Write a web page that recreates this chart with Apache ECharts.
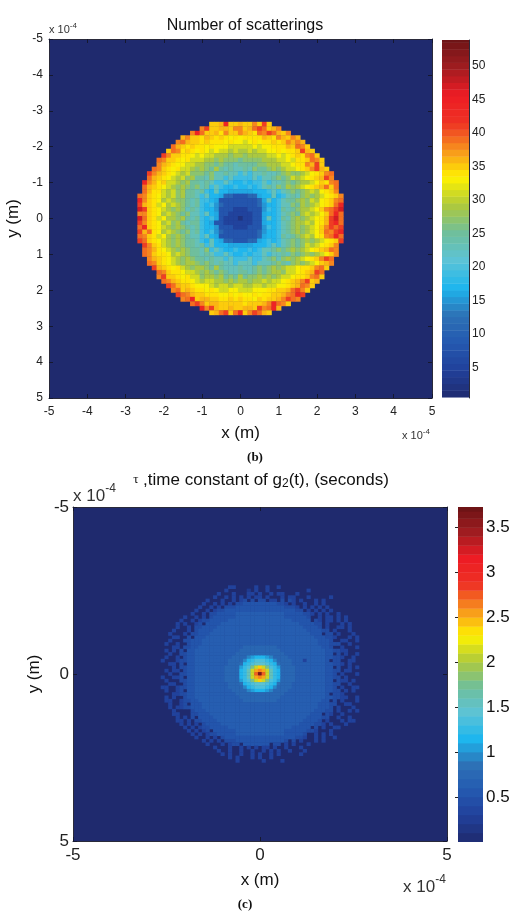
<!DOCTYPE html>
<html><head><meta charset="utf-8">
<style>html,body{margin:0;padding:0;background:#fff}#c{width:521px;height:919px}</style>
<script src="https://cdn.jsdelivr.net/npm/echarts@6/dist/echarts.min.js"></script>
</head><body><div id="c"></div>
<script>
// Estimated cell levels. '.' = background cell.
// Panel (b): each base-36 digit indexes scatterLevels. Spaces only group the cells.
const scatterLevels = [0,2,5,8,11,13,15,16,17,19,23,25,27,29,31,33,34,35,36,38,39,41,44,47];
const scatterRows = [
"hhimhhihhjhlh",
"jlhhiihjjhiklkhij",
"jmkhhigjhhjihgkjlkihj",
"ijhhgihghgfgfggggihgjihji",
"jkihhghgggfgffefgfgghghjiji",
"kihghggfgfffeeeeefeffgggihkjh",
"hkjghgfgfefeededdedeeffgfgghlih",
"ljhhggfefeedddcddcddddeefefghgjkh",
"kjhhgfgeeeddcdcccbccccdddeefegghkjh",
"jihgffeeddccbcbbabbbbccdddeefggjilh",
"kjhgfgeedcdcbdbabaabacbbcdcdeefghjlih",
"ljihgfedecccbcaabaa9a9aabaabcdccdefghjk",
"kihgfedecdbbacaa9a9 9 99a9aabcbcedefghilj",
"mjigheedcdbbaba99a98 8 9899a9aabcbcddefhgjk",
"kihgfedcdcbcab9a9889 8 8989abacbdcdefghikhk",
"kiggedecdbbab98a8877 7 778889a9abcbcdedfghj",
"kjhgfedecdbba9a887443 3 344788a89abacdcdefghj",
"mjhgfdedccbab99873333 3 33347a89abbcdcedfghjk",
"lihgefdedcbab98964333 3 33346889aacbdcdefghkm",
"nlhgfedcdcaba98863332 2 23336989babcddefhjkln",
"jjhgfdedcbcaa9a873322 2 22337889abcbdedefhkmk",
"nkhgefddcdbab98973222 1 22337a89bacdcdefgilnk",
"ljhgfdecdbabb98733222 2 22337889abcddedfgilmk",
"kmhgfedcdcbab98863332 2 23336989abcdcdefhjlkl",
"likgfdedcbcab98964333 3 33346889abcdcdefhkjlm",
"kjhgefdcdcbaa9a873333 3 33347889babcdedfgjkmk",
"lkhgfedcdcbba98a87443 3 34478989abcbcdcdefghl",
"ljhgedcdcbbab9a88877 7 778889a9abcbcedefghj",
"kjigfedcdcbbac9a9889 8 8989aabcbcdcdefghikj",
"kjhggfdedcbbaba99a98 8 9899a9aabacbcdcdefhj",
"jihgfedcdcbbabaa9a9 9 9a99abcacdcdefghjlk",
"kjhgfedcddcbcbabaa9aaa9aaabcbacdcdefhij",
"lihgfgedcddcbdbaaabaabcbcdcdeefgghjkh",
"kjhggfeedcdcbcbaabbabcbcddceefghilk",
"jlhhgfgeecddcdbcbdbccdcdcdeefgghjkh",
"kjihggfedeeddcdcddcddedeefghijlhi",
"lkihhgfffedeedeeddeedeeffghikjh",
"jkhihggfgfeeffeeefffgghhikljh",
"lkjihhgggffgfgffgfgghhijkml",
"jkmhiihhgghghggfhghhijlkj",
"kljhiihhhhhghhhijmkjh",
"mjlihhihhiihljkmi",
"hiklhkmhjlkih"
];
// Panel (c): base-36 digit x 0.105 = time constant in seconds. Spaces only group the cells.
const tauRows = [
"..................33.....3..3..3.....................",
".................3.....2.3..3..........3.............",
"...............3...3...33.3..3.33...3................",
"..............3..3.3.3.3.33.3...3.33...3.....3.......",
"............3...3..3.34.4.44.33.4.43.3...3.3.........",
"...........3..3.3.3. 4455555555544 3.3..3..3.3.........",
"..........3..3.3. 444 5555555555555 444 3.3.3.3.3........",
".........3..3.3 44 5555555555555555555 44 .3.3.3.3.......",
"........3..3. 44 55555 6666666666666 55555 44 3.3.3..3.....",
"......3..3.3 .4 555555 6666666666666 555555 4. .3.33.3.3...",
".....3..3.3 44 55555 6666666666 6666666 55555 .4 3.33.3.3...",
"....3.3..3 4. 5555 6666666666 6666666666 6 5555 44 .3...3.3..",
"....3..3. 44 5555 6666666666 6666666666 666 5555 4. 3..33.3..",
"...3...3 .4 5555 6666666666 6666666666 66666 5555 44 .3...3..",
"..3...3. 44 555 6666666666 6666666666 6666666 555 .4 4.3...3.",
"...33.. 4. 555 6666666666 6666666666 666666666 555 44 3...3.3",
"..3... 44 555 6666666666 6666666666 6666666666 6 555 4. .33..3",
".3..3. .4 555 6666666666 6666666666 6666666666 6 555 44 4..3..",
"...33. 44 55 666666666666 777777777 666666666666 55 4. .3...3",
".3.3. 4.55 666666666666 77777777777 666666666666 5544 33...",
"..3.. 4455 66666666666 7777777777777 66666666666 55.4 .3..3",
".3..3 .455 6666666666 7777 9abbba9 7777 6666666666 5544 3..3.",
"3...3 4455 666666666 7777 9bcdddcb9 7777 666366666 5.44 ..33.",
"..33. 4.55 666666666 777 8bcdeeedcb8 777 666666666 5544 3.3..",
"...3. 4455 66666666 7777 acdhknkhdca 7777 66666666 55.4 ..3.3",
".3.33 .455 66666666 7777 bcfkopokfcb 7777 66666666 5544 .33..",
"..3.. 4455 66666666 7777 bcfkqzqkfcb 7777 66666666 554. 3...3",
"3..33 4.55 66666666 7777 bcfkopokfcb 7777 66666666 5544 .3...",
".3... 4455 66666666 7777 acdhknkhdca 7777 66666666 55.4 33.3.",
"..33. .455 666666666 777 8bcdeeedcb8 777 666666666 5544 ..3..",
"33..3 4455 666666666 7777 9bcdddcb9 7777 666666666 554. 3..33",
".3..3 4.55 6666666666 7777 9abbba9 7777 6666666666 5544 .3.3.",
"...33 4455 66666666666 7777777777777 66666666666 5.44 3....",
".3.3. .455 666666666666 77777777777 666666666666 5544 33..3",
".33..3 44 55 666666666666 777777777 666666666666 55 .4 .3...3",
"..3..3 4. 555 6666666666 6666666666 6666666666 6 555 44 ..33..",
"..3.33 44 555 6666666666 6666666666 6666666666 6 555 4. 3...3.",
"...3... .4 555 6666666666 6666666666 666666666 555 44 .3..3.3",
"...33... 44 555 6666666666 6666666666 6666666 555 .4 3..3....",
"....3.3. 4. 5555 6666666666 6666666666 66666 5555 44 ..3..3..",
"....33.3. 44 5555 6666666666 6666666666 666 5555 4. 3...3.33.",
".....3.3.3 .4 5555 6666666666 6666666666 6 5555 44 3.3...3...",
"......3.3.3 44 55555 6666666666 6666666 55555 .4 .3..33....",
".......3.3.3 4. 555555 6666666666 666 555555 44 3...3.......",
"........3.3.3 44 55555 6666666666 666 55555 4. .3.3.3.......",
".........3..3.3 .4 5555555555555555555 44 3..3.3..3......",
"...........3.3.3. 444 5555555555555 4.4 .3...3.3.........",
"............3...3.3 44.5555555.44 .3.3...3.............",
"..............3...3..3.3.3.33.3..3...3...............",
"...............3..3..3..3..3.3.3..3...3..............",
"................3.3..3..3.3..3.3.....3...............",
"..................3.3...3.3..3.......................",
"....................3......3....3...................."
];
const scatterGridSize = 43, tauGridSize = 53;
const scatterCellStep = 0.125, tauCellStep = 0.1;
const tauUnit = 0.105;
const positionTicks = [-5,-4,-3,-2,-1,0,1,2,3,4,5];
const tauPositionTicks = [-5,0,5];
const scatterBarTicks = [5,10,15,20,25,30,35,40,45,50];
const tauBarTicks = [0.5,1,1.5,2,2.5,3,3.5];
const scatterBarLevels = [1,2,3,4,5,6,7,8,9,10,11,12,13,14,15,16,17,18,19,20,21,22,23,24,25,26,27,28,29,30,31,32,33,34,35,36,37,38,39,40,41,42,43,44,45,46,47,48,49,50,51,52,53,54];
const tauBarLevels = [0.05,0.15,0.25,0.35,0.45,0.55,0.65,0.75,0.85,0.95,1.05,1.15,1.25,1.35,1.45,1.55,1.65,1.75,1.85,1.95,2.05,2.15,2.25,2.35,2.45,2.55,2.65,2.75,2.85,2.95,3.05,3.15,3.25,3.35,3.45,3.55,3.65,3.73];
const colormap = ['#1f2a6e','#21409a','#2459b0','#2d72b6','#1eb6ee','#5cc3d6','#6fbf9c','#aec93c','#fff200','#f7941d','#ee3124','#ed1c24','#a01c20','#6e1416'];

function decode(rows, size, step, toValue){
  const out=[], mid=(size-1)/2;
  rows.forEach((raw,r)=>{
    const row=raw.replace(/ /g,'');
    const off=Math.floor((size-row.length)/2);
    for(let i=0;i<row.length;i++){
      if(row[i]==='.') continue;
      out.push([(i+off-mid)*step,(r-mid)*step,toValue(parseInt(row[i],36))]);
    }
  });
  return out;
}
function cell(step){
  return function(params,api){
    const c=api.coord([api.value(0),api.value(1)]);
    const s=api.size([step,step]);
    return {type:'rect',shape:{x:c[0]-s[0]/2-0.2,y:c[1]-s[1]/2-0.2,width:s[0]+0.4,height:s[1]+0.4},
      style:{fill:api.visual('color')}};
  };
}
function barCell(step){
  return function(params,api){
    const a=api.coord([0,api.value(1)+step/2]), b=api.coord([1,api.value(1)-step/2]);
    return {type:'rect',shape:{x:a[0],y:a[1]-0.2,width:b[0]-a[0],height:b[1]-a[1]+0.4},
      style:{fill:api.visual('color')}};
  };
}
const FONT='"Liberation Sans",Arial,sans-serif';
const line={show:true,onZero:false,lineStyle:{color:'#2a2a3a',width:1}};
function axisPair(grid,horizontal,ticks,fs,inverse,tickLen,name,gap,labelMargin,nameFs){
  const base={type:'value',gridIndex:grid,min:-5,max:5,inverse:inverse,splitLine:{show:false},axisLine:line,
    axisTick:{show:true,inside:true,length:tickLen,lineStyle:{color:'#15182f'},customValues:ticks}};
  return [
    Object.assign({},base,{position:horizontal?'bottom':'left',name:name,nameLocation:'middle',nameGap:gap,
      nameTextStyle:{fontFamily:FONT,fontSize:nameFs,color:'#111'},
      axisLabel:{show:true,customValues:ticks,fontFamily:FONT,fontSize:fs,color:'#222',margin:labelMargin,hideOverlap:false,formatter:v=>String(v)}}),
    Object.assign({},base,{position:horizontal?'top':'right',axisLabel:{show:false}})
  ];
}
const xAxes=[...axisPair(0,true,positionTicks,12,false,4,'x (m)',27,8,17),
             ...axisPair(1,true,tauPositionTicks,17,false,4,'x (m)',31,6,17),
             {type:'value',gridIndex:2,min:0,max:1,show:false},
             {type:'value',gridIndex:3,min:0,max:1,show:false}];
const yAxes=[...axisPair(0,false,positionTicks,12,true,4,'y (m)',20,6,17),
             ...axisPair(1,false,tauPositionTicks,17,true,4,'y (m)',24,4,17),
             {type:'value',gridIndex:2,position:'right',min:0.4,max:53.9,splitLine:{show:false},
              axisLine:line,axisTick:{show:true,inside:true,length:3,customValues:scatterBarTicks,lineStyle:{color:'#222'}},
              axisLabel:{customValues:scatterBarTicks,fontFamily:FONT,fontSize:12,color:'#222',margin:3}},
             {type:'value',gridIndex:3,position:'right',min:0,max:3.73,splitLine:{show:false},
              axisLine:{show:false},axisTick:{show:true,inside:true,length:3,customValues:tauBarTicks,lineStyle:{color:'#222'}},
              axisLabel:{customValues:tauBarTicks,fontFamily:FONT,fontSize:17,color:'#111',margin:3,formatter:v=>String(v)}}];
function power(x,y,fs,align){
  return {type:'text',x:x,y:y,silent:true,style:{text:'x 10{s|-4}',fontFamily:FONT,fontSize:fs,fill:'#333',
    align:align,verticalAlign:'bottom',rich:{s:{fontFamily:FONT,fontSize:Math.round(fs*0.7),fill:'#333',verticalAlign:'top',lineHeight:fs*1.6}}}};
}
const chart=echarts.init(document.getElementById('c'),null,{renderer:'canvas'});
chart.setOption({
  animation:false,backgroundColor:'#fff',
  title:[
    {text:'Number of scatterings',left:240,top:13,textAlign:'center',textStyle:{fontFamily:FONT,fontSize:16,fontWeight:'normal',color:'#111'}},
    {text:'{t|\u03c4} ,time constant of g{s|2}(t), (seconds)',left:256,top:465,textAlign:'center',
     textStyle:{fontFamily:FONT,fontSize:17,fontWeight:'normal',color:'#111',
       rich:{t:{fontFamily:'"Liberation Serif",serif',fontSize:13,color:'#111'},s:{fontFamily:FONT,fontSize:12,color:'#111',padding:[8,0,0,0]}}}}
  ],
  grid:[
    {left:49,top:39,width:383,height:359,show:true,backgroundColor:'#1f2a6e',borderWidth:0,outerBoundsMode:'none'},
    {left:73,top:507,width:374,height:334,show:true,backgroundColor:'#1f2a6e',borderWidth:0,outerBoundsMode:'none'},
    {left:442,top:40,width:27,height:358,outerBoundsMode:'none'},
    {left:458,top:507,width:25,height:335,outerBoundsMode:'none'}
  ],
  xAxis:xAxes,yAxis:yAxes,
  visualMap:[
    {show:false,seriesIndex:[0,2],dimension:2,min:0.4,max:53.9,inRange:{color:colormap}},
    {show:false,seriesIndex:[1,3],dimension:2,min:0,max:3.73,inRange:{color:colormap}}
  ],
  series:[
    {type:'custom',xAxisIndex:0,yAxisIndex:0,renderItem:cell(scatterCellStep),data:decode(scatterRows,scatterGridSize,scatterCellStep,d=>scatterLevels[d]),encode:{x:0,y:1},silent:true},
    {type:'custom',xAxisIndex:2,yAxisIndex:2,renderItem:cell(tauCellStep),data:decode(tauRows,tauGridSize,tauCellStep,d=>d*tauUnit),encode:{x:0,y:1},silent:true},
    {type:'custom',clip:true,xAxisIndex:4,yAxisIndex:4,renderItem:barCell(1),data:scatterBarLevels.map(v=>[0.5,v,v]),encode:{y:1},silent:true},
    {type:'custom',clip:true,xAxisIndex:5,yAxisIndex:5,renderItem:barCell(0.1),data:tauBarLevels.map(v=>[0.5,v,v]),encode:{y:1},silent:true}
  ],
  graphic:[
    power(49,39,11,'left'),
    power(402,445,11,'left'),
    power(73,510,17,'left'),
    power(403,901,17,'left'),
    {type:'text',x:255,y:458,silent:true,style:{text:'(b)',fontFamily:'"Liberation Serif",serif',fontSize:13,fontWeight:'bold',fill:'#111',align:'center',verticalAlign:'middle'}},
    {type:'text',x:245,y:905,silent:true,style:{text:'(c)',fontFamily:'"Liberation Serif",serif',fontSize:13,fontWeight:'bold',fill:'#111',align:'center',verticalAlign:'middle'}}
  ]
});
</script></body></html>
